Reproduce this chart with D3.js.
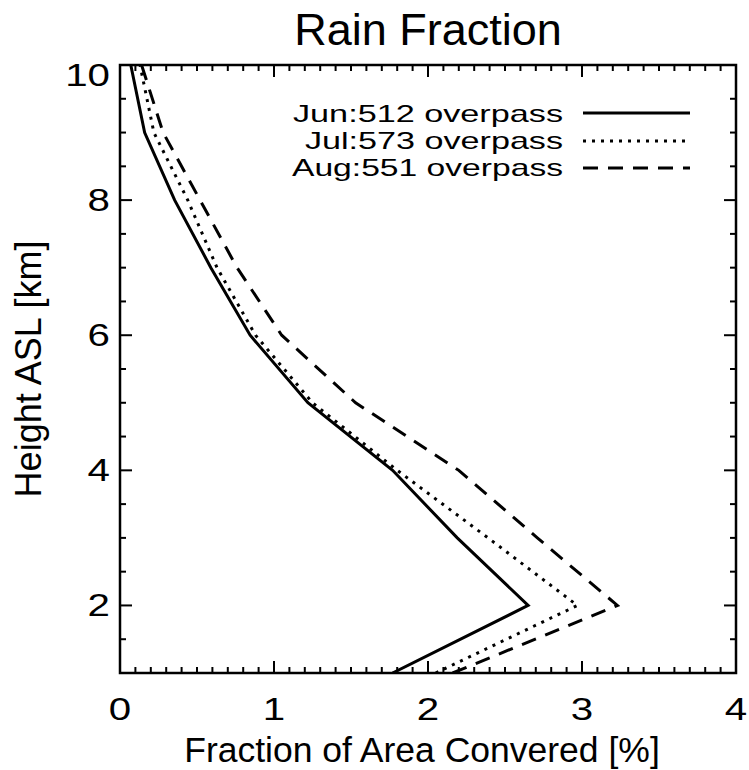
<!DOCTYPE html>
<html><head><meta charset="utf-8">
<script src="https://cdn.jsdelivr.net/npm/d3@7/dist/d3.min.js"></script>
<style>body{margin:0;background:#fff}svg{display:block}text{font-family:"Liberation Sans",Arial,sans-serif;fill:#000}</style>
</head><body><svg id="c" width="749" height="770"></svg>
<script>
const heights = [1,2,3,4,5,6,7,8,9,10];
const jun = [1.77,2.65,2.19,1.77,1.22,0.845,0.59,0.355,0.16,0.07];
const jul = [2.05,2.97,2.39,1.80,1.25,0.88,0.63,0.44,0.22,0.13];
const aug = [2.16,3.23,2.71,2.20,1.53,1.05,0.76,0.52,0.28,0.14];
const seriesNames = ["Jun:512 overpass","Jul:573 overpass","Aug:551 overpass"];
const xTicks = [0,1,2,3,4];
const yTicks = [2,4,6,8,10];
const title = "Rain Fraction";
const xLabel = "Fraction of Area Convered [%]";
const yLabel = "Height ASL [km]";

const svg = d3.select("#c");
const L=120, R=736, T=65, B=673;
const x = d3.scaleLinear().domain([0,4]).range([L,R]);
const y = d3.scaleLinear().domain([1,10]).range([B,T]);

const styles = [
  {dash:null},
  {dash:"3,6"},
  {dash:"15,10"}
];
const data = [jun,jul,aug];

const line = d3.line().x(d=>x(d[0])).y(d=>y(d[1]));
svg.append("clipPath").attr("id","cp").append("rect").attr("x",L).attr("y",T).attr("width",R-L).attr("height",B-T);
data.forEach((s,i)=>{
  svg.append("path").attr("clip-path","url(#cp)")
    .datum(s.map((v,j)=>[v,heights[j]]))
    .attr("d",line).attr("fill","none").attr("stroke","#000")
    .attr("stroke-width",3).attr("stroke-dasharray",styles[i].dash)
    .attr("stroke-linejoin","miter");
});

// axes ticks
const g = svg.append("g").attr("stroke","#000");
const xMinor = d3.range(0,41).map(d=>d/10);
xMinor.forEach(v=>{
  const major = Math.abs(v-Math.round(v))<1e-9;
  const len = major?12:6;
  g.append("line").attr("x1",x(v)).attr("x2",x(v)).attr("y1",B).attr("y2",B-len).attr("stroke-width",2);
  g.append("line").attr("x1",x(v)).attr("x2",x(v)).attr("y1",T).attr("y2",T+len).attr("stroke-width",2);
});
const yMinor = d3.range(2,21).map(d=>d/2);
yMinor.forEach(v=>{
  const major = yTicks.includes(v);
  const len = major?12:6;
  g.append("line").attr("y1",y(v)).attr("y2",y(v)).attr("x1",L).attr("x2",L+len).attr("stroke-width",2);
  g.append("line").attr("y1",y(v)).attr("y2",y(v)).attr("x1",R).attr("x2",R-len).attr("stroke-width",2);
});
svg.append("rect").attr("x",L).attr("y",T).attr("width",R-L).attr("height",B-T)
  .attr("fill","none").attr("stroke","#000").attr("stroke-width",2.5);

// tick labels (wide glyphs)
xTicks.forEach(v=>{
  svg.append("g").attr("transform",`translate(${x(v)},720) scale(1.3,1)`)
    .append("text").attr("text-anchor","middle").attr("font-size",31).text(v);
});
yTicks.forEach(v=>{
  const yy = Math.max(y(v), T+10);
  svg.append("g").attr("transform",`translate(110,${yy+11}) scale(1.3,1)`)
    .append("text").attr("text-anchor","end").attr("font-size",31).text(v);
});

// titles
svg.append("text").attr("x",428).attr("y",45).attr("text-anchor","middle").attr("font-size",45).text(title);
svg.append("text").attr("x",422).attr("y",762).attr("text-anchor","middle").attr("font-size",35.5).text(xLabel);
svg.append("text").attr("transform",`translate(41,369) rotate(-90)`).attr("text-anchor","middle").attr("font-size",36).text(yLabel);

// legend
const legY = [122,149,176];
const legW = [270,258,271];
seriesNames.forEach((n,i)=>{
  svg.append("text").attr("x",563-legW[i]).attr("y",legY[i])
    .attr("font-size",24).attr("textLength",legW[i]).attr("lengthAdjust","spacingAndGlyphs").text(n);
  const ly = legY[i]-9+(i?1:0);
  svg.append("line").attr("x1",583).attr("x2",690).attr("y1",ly).attr("y2",ly)
    .attr("stroke","#000").attr("stroke-width",3).attr("stroke-dasharray",styles[i].dash);
});
</script></body></html>
